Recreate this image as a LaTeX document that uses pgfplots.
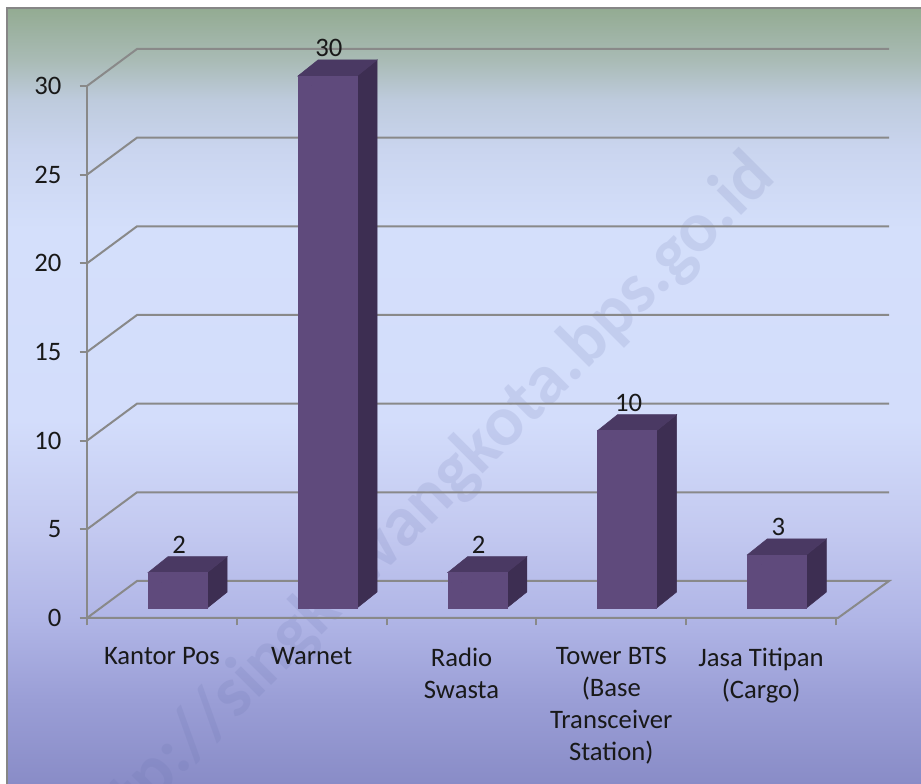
\documentclass[border=0pt]{standalone}
\usepackage{pgfplots}
\pgfplotsset{compat=1.18}
\usepackage{pgfplotstable}
\usepackage{fontspec}
\setmainfont{Carlito}

\definecolor{gridgray}{HTML}{898989}
\definecolor{bordergray}{HTML}{868686}
\definecolor{barfront}{HTML}{5F4A7C}
\definecolor{bartop}{HTML}{4A3963}
\definecolor{barside}{HTML}{3D2E52}
\definecolor{wmark}{HTML}{646EAA}

\definecolor{bg0}{HTML}{93AB92}
\definecolor{bg1}{HTML}{A9BBB5}
\definecolor{bg2}{HTML}{BECBDD}
\definecolor{bg3}{HTML}{CAD5EF}
\definecolor{bg4}{HTML}{D4DFFB}
\definecolor{bg5}{HTML}{D3DDFB}
\definecolor{bg6}{HTML}{C3C9F0}
\definecolor{bg7}{HTML}{B0B5E6}
\definecolor{bg8}{HTML}{9A9ED6}
\definecolor{bg9}{HTML}{898CC7}

\pgfdeclareverticalshading{chartbg}{100bp}{
  color(0bp)=(bg9); color(25bp)=(bg9); color(30.41bp)=(bg8);
  color(35.57bp)=(bg7); color(41.37bp)=(bg6); color(48.45bp)=(bg5);
  color(60.70bp)=(bg4); color(65.85bp)=(bg3); color(69.07bp)=(bg2);
  color(71.65bp)=(bg1); color(75bp)=(bg0); color(100bp)=(bg0)}

% counts per facility
\pgfplotstableread{
x   v
0.5 2
1.5 30
2.5 2
3.5 10
4.5 3
}\facilities

% 3-D bar geometry, in axis units relative to (category centre, value)
\def\xa{-0.0915}
\def\xb{0.3025}
\def\xc{0.4360}
\def\xd{0.0420}
\def\bl{0.564}
\def\ddy{0.902}

\newcommand\lblfont{\fontsize{20}{24}\selectfont}

\begin{document}
\begin{tikzpicture}
\useasboundingbox (0pt,0pt) rectangle (690.75pt,588pt);
\fill[white] (0pt,0pt) rectangle (690.75pt,588pt);
\begin{scope}
\clip (5.25pt,0pt) rectangle (690.75pt,582pt);
\shade[shading=chartbg] (5.25pt,0pt) rectangle (690.75pt,582pt);
\node[rotate=45, text=wmark, opacity=0.15, font=\fontsize{53.5}{60}\selectfont\bfseries]
  at (316.5pt,207pt) {http://singkawangkota.bps.go.id};
\end{scope}
\draw[bordergray, line width=1.6pt] (5.25pt,-5pt) -- (5.25pt,582pt) -- (700pt,582pt);

\begin{axis}[
  at={(65.25pt,124.5pt)}, anchor=south west,
  scale only axis, width=561.75pt, height=399pt,
  xmin=0, xmax=5, ymin=0, ymax=30,
  clip=false,
  axis x line*=bottom, axis y line*=left,
  axis line style={gridgray, line width=1.5pt},
  xtick={0,...,5}, x tick label as interval,
  xticklabels={Kantor Pos, Warnet, {Radio\\Swasta},
    {Tower BTS\\(Base\\Transceiver\\Station)}, {Jasa Titipan\\(Cargo)}},
  ytick={0,5,...,30},
  tick align=outside,
  major tick length=5.5pt,
  tick style={gridgray, line width=1.5pt},
  ticklabel style={font=\lblfont, text=black!90},
  xticklabel style={align=center, anchor=north, inner sep=0pt, yshift=-16.5pt},
  yticklabel style={anchor=east, inner sep=0pt, xshift=-13.5pt},
  /pgf/number format/assume math mode=true,
]
% back wall grid lines and floor
\pgfplotsinvokeforeach{5,10,15,20,25,30}{
  \draw[gridgray, line width=1.5pt] (axis cs:0,#1) -- (axis cs:0.3338,#1+2.087) -- (axis cs:5.354,#1+2.087);
}
\draw[gridgray, line width=1.5pt] (axis cs:0,0) -- (axis cs:0.3338,2.087) -- (axis cs:5.354,2.087)
  -- (axis cs:5.013,0) -- (axis cs:0,0);

\addplot[scatter, only marks, mark=*, mark size=0pt,
  mark options={draw=none, fill=none},
  visualization depends on={y \as \val},
  scatter/@pre marker code/.code={%
    \pgfmathsetmacro\yb{\bl-\val}%
    \pgfmathsetmacro\ybb{\bl-\val+\ddy}%
    \pgfmathsetmacro\ytt{\bl+\ddy}%
    \fill[barside, opacity=1] (axis direction cs:\xb,\yb) -- (axis direction cs:\xb,\bl)
      -- (axis direction cs:\xc,\ytt) -- (axis direction cs:\xc,\ybb) -- cycle;
    \fill[bartop, opacity=1] (axis direction cs:\xa,\bl) -- (axis direction cs:\xb,\bl)
      -- (axis direction cs:\xc,\ytt) -- (axis direction cs:\xd,\ytt) -- cycle;
    \fill[barfront, opacity=1] (axis direction cs:\xa,\yb) rectangle (axis direction cs:\xb,\bl);
    \node[anchor=south, inner sep=0pt, yshift=2pt, font=\lblfont, text=black!90, opacity=1]
      at (axis direction cs:0.115,\ytt) {\pgfmathprintnumber[assume math mode=true]{\val}};
  },
  scatter/@post marker code/.code={},
] table[x=x, y=v] {\facilities};
\end{axis}
\end{tikzpicture}
\end{document}
